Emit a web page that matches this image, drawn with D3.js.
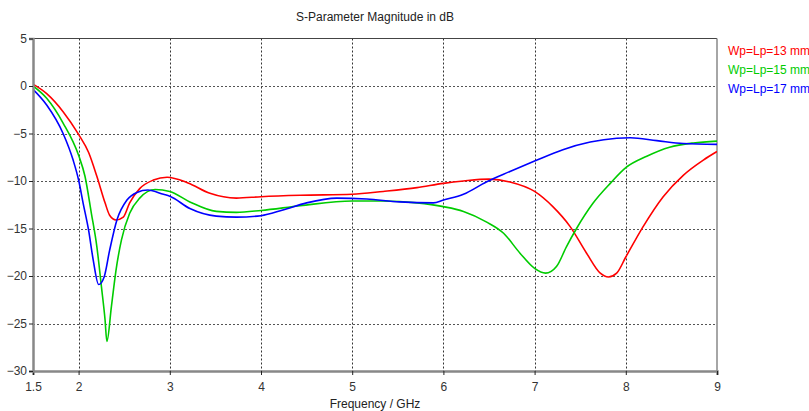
<!DOCTYPE html>
<html><head><meta charset="utf-8">
<script src="https://cdn.jsdelivr.net/npm/d3@7"></script>
<style>body{margin:0;background:#fff}svg{display:block}text{font-family:"Liberation Sans",Arial,sans-serif}</style>
</head><body><svg id="c" width="809" height="411"></svg>
<script>
const xTicks = [1.5, 2, 3, 4, 5, 6, 7, 8, 9];
const yTicks = [5, 0, -5, -10, -15, -20, -25, -30];
const seriesNames = ["Wp=Lp=13 mm", "Wp=Lp=15 mm", "Wp=Lp=17 mm"];
const seriesColors = ["#ff0000", "#00cc00", "#0000ff"];

const freq13 = [1.5,1.65,1.83,2.0,2.11,2.2,2.29,2.34,2.41,2.49,2.56,2.67,2.82,2.97,3.2,3.44,3.73,4.0,4.43,5.0,5.34,5.71,6.0,6.22,6.5,6.73,7.0,7.2,7.39,7.57,7.72,7.81,7.9,8.0,8.19,8.41,8.63,8.85,9.0];
const s13 = [0.2,-0.8,-2.7,-5.1,-7.0,-9.5,-12.3,-13.6,-14.1,-13.8,-12.3,-10.8,-9.9,-9.6,-10.2,-11.3,-11.8,-11.65,-11.5,-11.4,-11.1,-10.7,-10.25,-10.0,-9.8,-10.1,-11.1,-12.7,-14.8,-17.6,-19.7,-20.1,-19.7,-18.0,-14.8,-11.65,-9.4,-7.8,-6.9];

const freq15 = [1.5,1.65,1.83,2.0,2.07,2.14,2.2,2.25,2.29,2.31,2.36,2.41,2.47,2.56,2.67,2.84,3.0,3.22,3.51,3.73,4.0,4.43,5.0,5.34,5.71,6.0,6.22,6.47,6.66,6.84,7.0,7.12,7.24,7.35,7.46,7.64,7.83,8.0,8.23,8.48,8.74,9.0];
const s15 = [0.0,-1.3,-3.9,-7.3,-9.5,-13.4,-16.9,-21.1,-24.6,-26.9,-23.2,-19.4,-16.2,-13.4,-11.8,-10.9,-11.1,-12.2,-13.2,-13.3,-13.1,-12.6,-12.1,-12.1,-12.3,-12.7,-13.2,-14.3,-15.5,-17.6,-19.2,-19.7,-19.0,-16.9,-15.0,-12.35,-10.25,-8.6,-7.4,-6.45,-6.0,-5.8];

const freq17 = [1.5,1.65,1.83,1.94,2.0,2.05,2.11,2.16,2.22,2.28,2.34,2.42,2.53,2.64,2.76,2.93,3.0,3.22,3.51,3.73,4.0,4.24,4.5,4.83,5.16,5.52,5.89,6.0,6.22,6.47,6.73,7.0,7.31,7.61,7.9,8.05,8.34,8.63,9.0];
const s17 = [-0.35,-2.0,-5.0,-7.8,-9.9,-12.35,-15.2,-18.3,-20.9,-20.1,-17.3,-14.1,-12.0,-11.2,-10.95,-11.4,-11.6,-12.9,-13.7,-13.8,-13.65,-13.05,-12.3,-11.8,-11.9,-12.2,-12.3,-12.0,-11.4,-10.1,-9.0,-7.9,-6.7,-5.9,-5.5,-5.45,-5.75,-6.05,-6.15];

const series = [
  {name: seriesNames[0], color: seriesColors[0], f: freq13, v: s13},
  {name: seriesNames[1], color: seriesColors[1], f: freq15, v: s15},
  {name: seriesNames[2], color: seriesColors[2], f: freq17, v: s17}
];

const L = 33, R = 717, T = 38.5, B = 371;
const x = d3.scaleLinear().domain([1.5, 9]).range([L, R]);
const y = d3.scaleLinear().domain([-30, 5]).range([B, T]);
const svg = d3.select("#c");

// grid
svg.append("g").selectAll("line").data(xTicks.filter(t => t > 1.5 && t < 9)).join("line")
  .attr("x1", d => Math.round(x(d)) + 0.5).attr("x2", d => Math.round(x(d)) + 0.5)
  .attr("y1", T).attr("y2", B)
  .attr("stroke", "#333").attr("stroke-width", 1).attr("stroke-dasharray", "2,2");
svg.append("g").selectAll("line").data(yTicks.filter(t => t < 5 && t > -30)).join("line")
  .attr("y1", d => Math.round(y(d)) + 0.5).attr("y2", d => Math.round(y(d)) + 0.5)
  .attr("x1", L).attr("x2", R)
  .attr("stroke", "#555").attr("stroke-width", 1).attr("stroke-dasharray", "2,2");

// frame
svg.append("line").attr("x1", L).attr("x2", R).attr("y1", T).attr("y2", T).attr("stroke", "#444").attr("stroke-width", 1.2);
svg.append("line").attr("x1", R).attr("x2", R).attr("y1", T).attr("y2", B).attr("stroke", "#888").attr("stroke-width", 1.5);

// curves
const clipId = "plotclip";
svg.append("clipPath").attr("id", clipId).append("rect").attr("x", L).attr("y", T).attr("width", R - L).attr("height", B - T);
const line = d3.line().x(d => x(d[0])).y(d => y(d[1])).curve(d3.curveMonotoneX);
series.forEach(s => {
  const pts = s.f.map((f, i) => [f, s.v[i]]);
  svg.append("path").attr("d", line(pts)).attr("fill", "none")
    .attr("stroke", s.color).attr("stroke-width", 1.6).attr("clip-path", `url(#${clipId})`);
});

// axes
const xAxis = d3.axisBottom(x).tickValues(xTicks).tickSize(4).tickFormat(d3.format("~g"));
const gx = svg.append("g").attr("transform", `translate(0,${B})`).call(xAxis);
gx.select(".domain").attr("stroke", "#888").attr("stroke-width", 2.5);
gx.selectAll(".tick line").attr("stroke", "#222");
gx.selectAll("text").attr("font-size", 12).attr("fill", "#333").attr("dy", "1.1em");

const yAxis = d3.axisLeft(y).tickValues(yTicks).tickSize(4).tickFormat(d3.format("~g"));
const gy = svg.append("g").attr("transform", `translate(${L},0)`).call(yAxis);
gy.select(".domain").attr("stroke", "#888").attr("stroke-width", 2.5);
gy.selectAll(".tick line").attr("stroke", "#222");
gy.selectAll("text").attr("font-size", 12).attr("fill", "#333").attr("x", -6);

// title & label
svg.append("text").attr("x", 375).attr("y", 21).attr("text-anchor", "middle").attr("font-size", 12).attr("fill", "#222").text("S-Parameter Magnitude in dB");
svg.append("text").attr("x", 375).attr("y", 408).attr("text-anchor", "middle").attr("font-size", 12).attr("fill", "#222").text("Frequency / GHz");

// legend
svg.append("g").selectAll("text").data(series).join("text")
  .attr("x", 728).attr("y", (d, i) => 55 + i * 19)
  .attr("font-size", 12).attr("fill", d => d.color).text(d => d.name);
</script></body></html>
